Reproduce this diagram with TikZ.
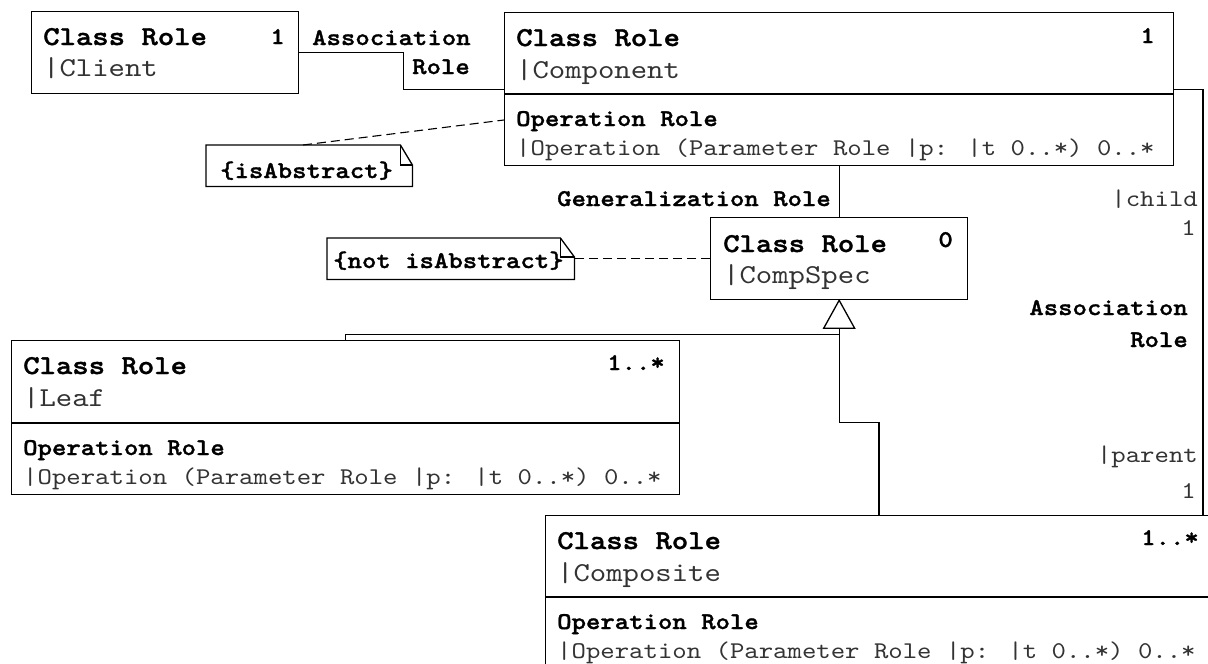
\documentclass[tikz,border=0pt]{standalone}
\usepackage{fontspec}
\newfontfamily\cour[BoldFont=lmmonolt10-bold.otf,BoldFeatures={FakeBold=1.3},FakeStretch=1.1429]{lmmono10-regular.otf}
\begin{document}
\begin{tikzpicture}[x=1pt,y=-1pt,
  box/.style={draw, line width=1.3pt, anchor=north west, inner sep=0pt},
  ln/.style={line width=1.3pt},
  dline/.style={line width=1.1pt, dash pattern=on 9pt off 5pt},
  notebox/.style={anchor=north west, inner sep=0pt},
  tb/.style={anchor=base west, inner sep=0pt, font=\cour\bfseries\fontsize{27.3}{30}\selectfont},
  tr/.style={anchor=base west, inner sep=0pt, text=black!80, font=\cour\fontsize{27.3}{30}\selectfont},
  lb/.style={inner sep=0pt, font=\cour\bfseries\fontsize{24}{28}\selectfont},
  lr/.style={inner sep=0pt, text=black!80, font=\cour\fontsize{24}{28}\selectfont}]
\useasboundingbox (0,0) rectangle (1208,664);
\clip (0,0) rectangle (1208,664);
\fill[white] (0,0) rectangle (1208,664);

% boxes
\node[box, minimum width=267pt, minimum height=82pt] (client) at (31,11) {};
\node[box, minimum width=669pt, minimum height=153pt] (comp) at (504,12) {};
\node[box, minimum width=257pt, minimum height=82pt] (cs) at (710,217) {};
\node[box, minimum width=668pt, minimum height=154pt] (leaf) at (11,340) {};
\node[box, minimum width=690pt, minimum height=170pt] (cmp) at (545,515) {};

% compartment dividers
\draw[ln] ([yshift=-82pt]comp.north west) -- ([yshift=-82pt]comp.north east);
\draw[ln] ([yshift=-83pt]leaf.north west) -- ([yshift=-83pt]leaf.north east);
\draw[ln] ([yshift=-82pt]cmp.north west) -- ([yshift=-82pt]cmp.north east);

% notes
\node[notebox, minimum width=206pt, minimum height=41pt] (n1) at (206,145) {};
\draw[ln] (n1.north west) -- ([xshift=-12pt]n1.north east) -- ([yshift=-20pt]n1.north east)
  -- (n1.south east) -- (n1.south west) -- cycle;
\draw[ln] ([xshift=-12pt]n1.north east) |- ([yshift=-20pt]n1.north east);
\node[notebox, minimum width=247pt, minimum height=41pt] (n2) at (327,238) {};
\draw[ln] (n2.north west) -- ([xshift=-14pt]n2.north east) -- ([yshift=-19pt]n2.north east)
  -- (n2.south east) -- (n2.south west) -- cycle;
\draw[ln] ([xshift=-14pt]n2.north east) |- ([yshift=-19pt]n2.north east);

% texts: Client
\node[tb] at (43,45) {Class Role};
\node[tr] at (43,76) {|Client};
\node[lb, anchor=base east] at (285,44) {1};
% Component
\node[tb] at (516,46) {Class Role};
\node[tr] at (516,78) {|Component};
\node[lb, anchor=base east] at (1155,43) {1};
\node[lb, anchor=base west] at (516,126) {Operation Role};
\node[lr, anchor=base west] at (516,155) {|Operation (Parameter Role |p: |t 0..*) 0..*};
% CompSpec
\node[tb] at (723,252) {Class Role};
\node[tr] at (723,283) {|CompSpec};
\node[lb, anchor=base east] at (953,247) {0};
% Leaf
\node[tb] at (23,374) {Class Role};
\node[tr] at (23,406) {|Leaf};
\node[lb, anchor=base east] at (665,370) {1..*};
\node[lb, anchor=base west] at (23,455) {Operation Role};
\node[lr, anchor=base west] at (23,484) {|Operation (Parameter Role |p: |t 0..*) 0..*};
% Composite
\node[tb] at (557,549) {Class Role};
\node[tr] at (557,581) {|Composite};
\node[lb, anchor=base east] at (1199,545) {1..*};
\node[lb, anchor=base west] at (557,629) {Operation Role};
\node[lr, anchor=base west] at (557,658) {|Operation (Parameter Role |p: |t 0..*) 0..*};
% notes text
\node[lb, anchor=base west] at (220,178) {\{isAbstract\}};
\node[lb, anchor=base west] at (333,268) {\{not isAbstract\}};

% connectors
\draw[ln] (client.east) -- ++(104,0) |- (comp.west);
\node[lb, anchor=base west] at (312,45) {Association};
\node[lb, anchor=base east] at (470,74) {Role};

\draw[dline] ([xshift=97pt]n1.north west) -- ([yshift=-108pt]comp.north west);
\draw[dline] (cs.west) -- (cs.west -| n2.east);

\draw[ln] (cs.north) -- (cs.north |- comp.south);
\node[lb, anchor=base east] at (831,206) {Generalization Role};

\coordinate (tribase) at ([yshift=-28pt]cs.south);
\draw[ln, fill=white] (cs.south) -- ++(-15.5,28) -- ++(31,0) -- cycle;
\coordinate (cin) at ([xshift=334pt]cmp.north west);
\draw[ln] (tribase) -- ++(0,94) -| (cin);
\draw[ln] ([yshift=-6pt]tribase) -| (leaf.north);

\coordinate (pin) at ([xshift=658pt]cmp.north west);
\draw[ln] (comp.east) -| (pin);
\node[lr, anchor=base east] at (1198,206) {|child};
\node[lr, anchor=base east] at (1196,235) {1};
\node[lb, anchor=base east] at (1188,315) {Association};
\node[lb, anchor=base east] at (1188,347) {Role};
\node[lr, anchor=base east] at (1198,462) {|parent};
\node[lr, anchor=base east] at (1196,498) {1};
\end{tikzpicture}
\end{document}
